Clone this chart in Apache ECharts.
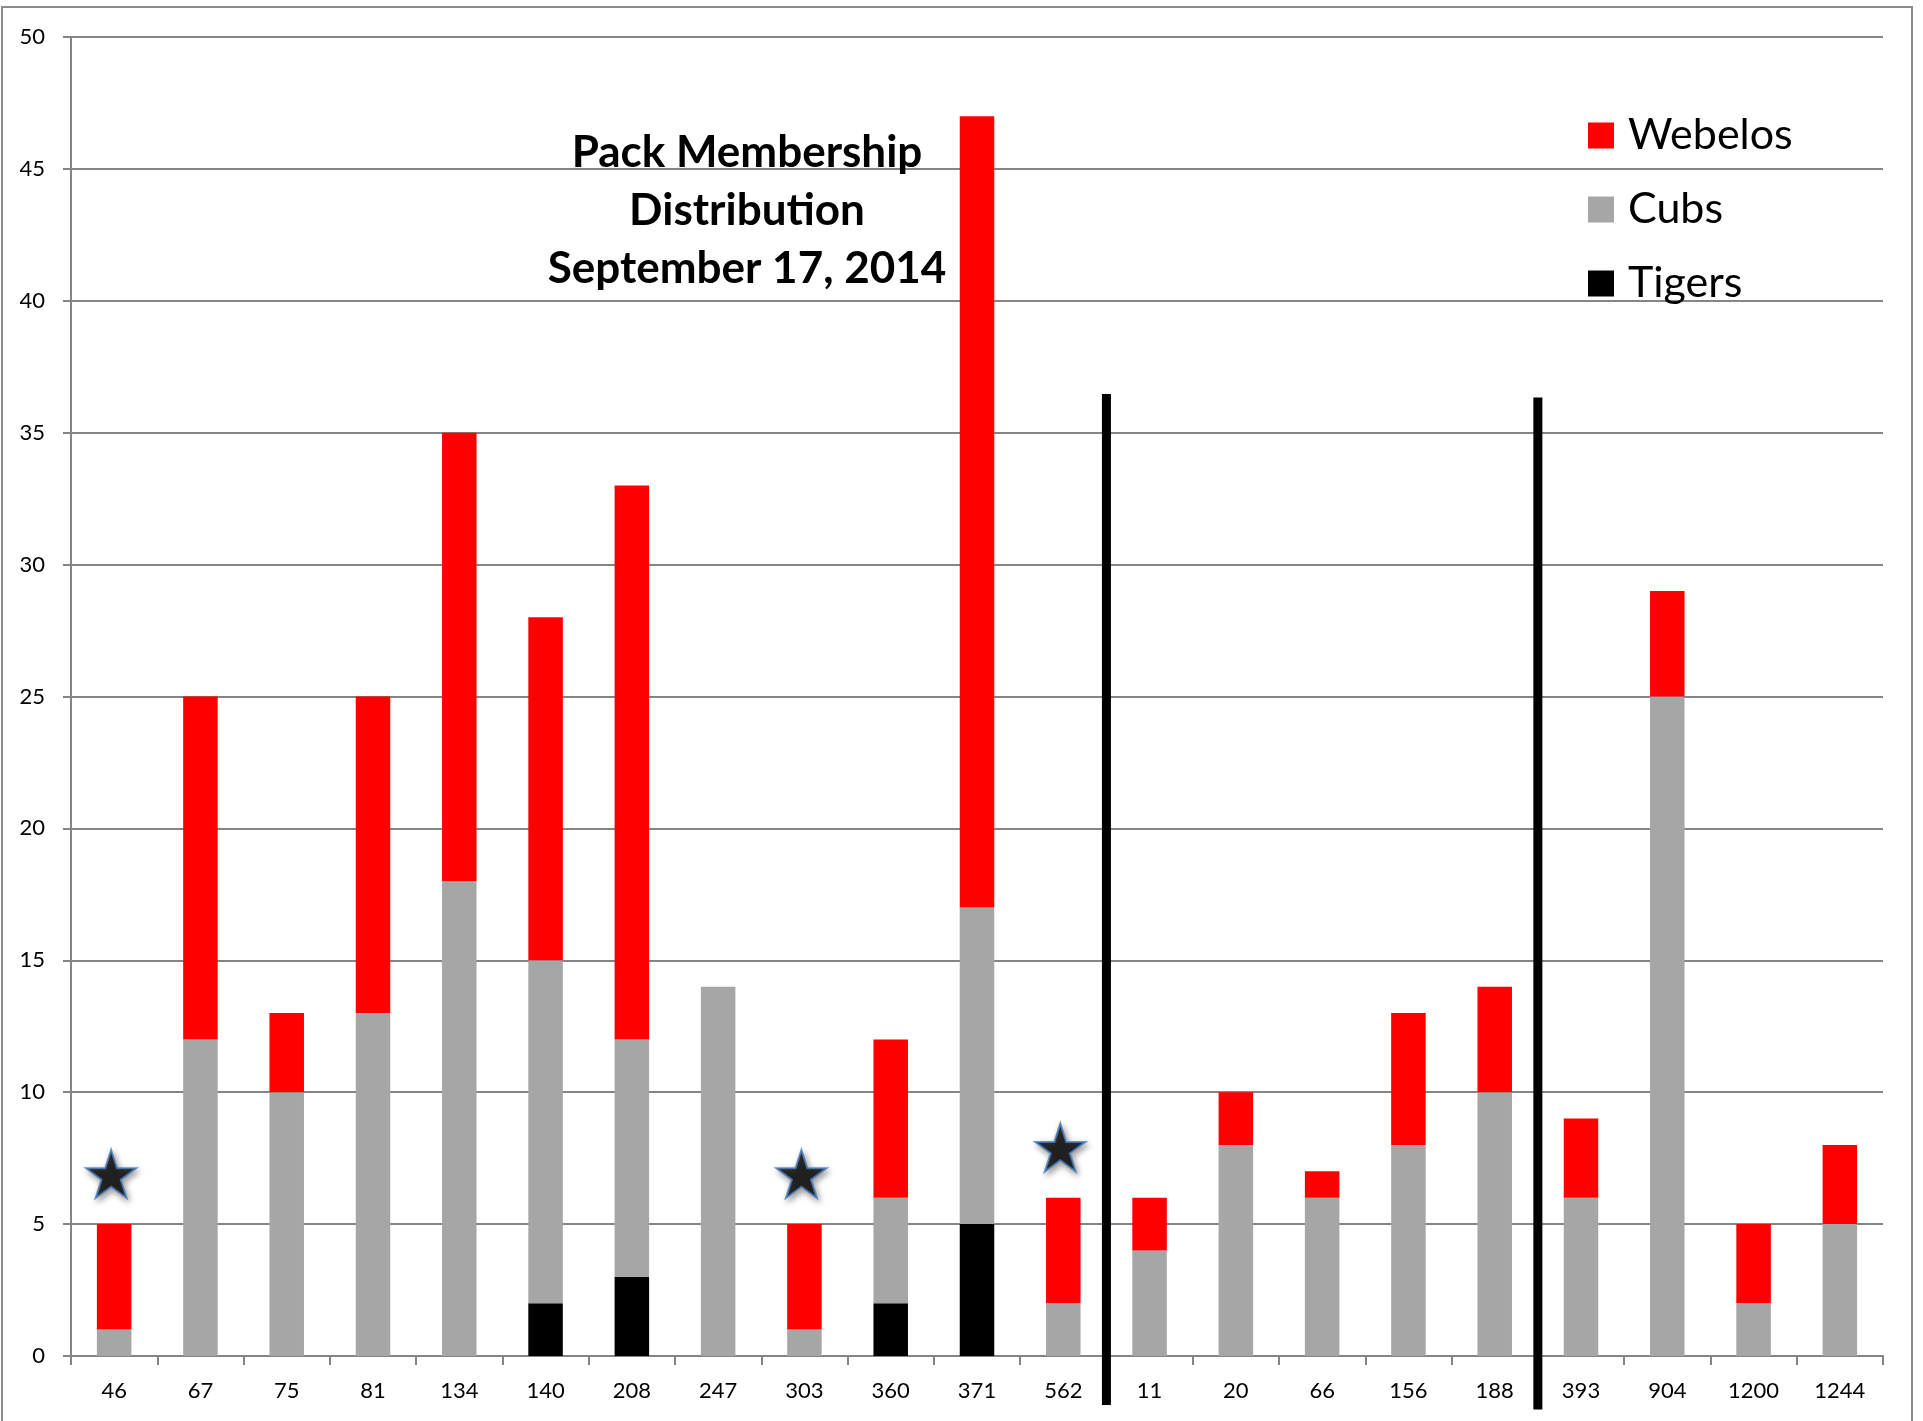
<!DOCTYPE html>
<html><head><meta charset="utf-8">
<script src="https://cdn.jsdelivr.net/npm/echarts@6/dist/echarts.min.js"></script>
<style>html,body{margin:0;padding:0;background:#fff}#c{width:1923px;height:1421px}</style>
</head><body><div id="c"></div>
<script>
const categories = ['46','67','75','81','134','140','208','247','303','360','371','562','11','20','66','156','188','393','904','1200','1244'];
const tigers  = [0,0,0,0,0,2,3,0,0,2,5,0,0,0,0,0,0,0,0,0,0];
const cubs    = [1,12,10,13,18,13,9,14,1,4,12,2,4,8,6,8,10,6,25,2,5];
const webelos = [4,13,3,12,17,13,21,0,4,6,30,4,2,2,1,5,4,3,4,3,3];
const yTicks = {min:0, max:50, interval:5};
const starPoints = [[0,6.9],[8,6.9],[11,7.9]];
// divider after category index: [leftIndex, topValue, bottomValue]
const dividers = [[11,36.47,-1.86],[16,36.33,-2.03]];
const titleLines = ['Pack Membership','Distribution','September 17, 2014'];

const FONT = 'Lato';
const starPath = 'path://M50,0 L61.2,34.5 L97.6,34.5 L68.2,55.9 L79.4,90.5 L50,69.1 L20.6,90.5 L31.8,55.9 L2.4,34.5 L38.8,34.5 Z';

const chart = echarts.init(document.getElementById('c'), null, {renderer:'canvas'});
chart.setOption({
  animation:false,
  backgroundColor:'#fff',
  title:{
    text: titleLines.join('\n'),
    left: 742, top: 119, textAlign:'center',
    textStyle:{fontFamily:FONT,fontWeight:'bold',fontSize:44,lineHeight:58,color:'#000'}
  },
  legend:{
    orient:'vertical', left:1583, top:108,
    data:['Webelos','Cubs','Tigers'],
    icon:'rect', itemWidth:26, itemHeight:26, itemGap:29,
    textStyle:{fontFamily:FONT,fontSize:43,lineHeight:45,color:'#000',padding:[0,0,0,9]}
  },
  graphic:[{type:'rect',silent:true,z:-1,shape:{x:2,y:7,width:1910,height:1430},style:{fill:'none',stroke:'#8c8c8c',lineWidth:2}}],
  grid:{left:71,right:40,top:37,bottom:65,containLabel:false},
  xAxis:{
    type:'category', data:categories,
    axisLine:{lineStyle:{color:'#858585',width:2}},
    axisTick:{show:true,length:9,lineStyle:{color:'#858585',width:2}},
    axisLabel:{fontFamily:FONT,fontSize:22,color:'#000',margin:24}
  },
  yAxis:{
    type:'value', min:yTicks.min, max:yTicks.max, interval:yTicks.interval,
    axisLine:{show:true,lineStyle:{color:'#858585',width:2}},
    axisTick:{show:true,length:8,lineStyle:{color:'#858585',width:2}},
    splitLine:{lineStyle:{color:'#858585',width:2}},
    axisLabel:{fontFamily:FONT,fontSize:22,color:'#000',margin:26}
  },
  series:[
    {name:'Tigers',type:'bar',stack:'s',data:tigers,itemStyle:{color:'#000000'},barCategoryGap:'60%'},
    {name:'Cubs',type:'bar',stack:'s',data:cubs,itemStyle:{color:'#a6a6a6'}},
    {name:'Webelos',type:'bar',stack:'s',data:webelos,itemStyle:{color:'#ff0000'}},
    {name:'stars',type:'scatter',data:starPoints,symbol:starPath,symbolSize:[50,48],symbolOffset:[-3,0],z:5,
     itemStyle:{color:'#000',borderColor:'#4a7ebb',borderWidth:2,shadowBlur:6,shadowColor:'rgba(0,0,0,0.45)',shadowOffsetX:2,shadowOffsetY:3}},
    {name:'dividers',type:'custom',data:dividers,clip:false,silent:true,z:6,
     renderItem:function(params,api){
       const a = api.coord([api.value(0), api.value(1)]);
       const b = api.coord([api.value(0)+1, api.value(2)]);
       const x = (a[0]+b[0])/2;
       return {type:'line',shape:{x1:x,y1:a[1],x2:x,y2:b[1]},style:{stroke:'#000',lineWidth:9}};
     }}
  ]
});
</script></body></html>
